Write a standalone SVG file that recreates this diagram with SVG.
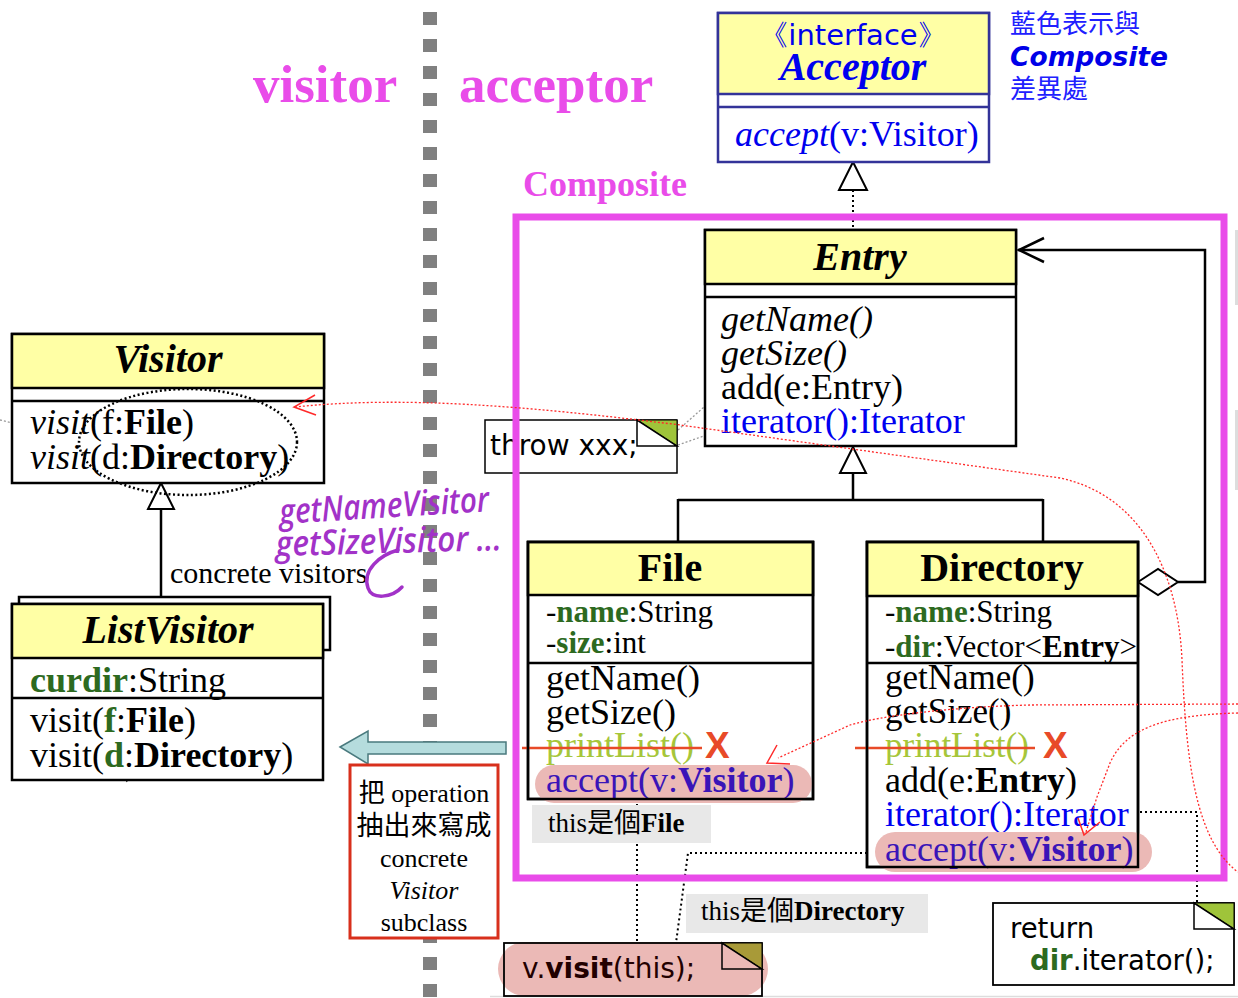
<svg xmlns="http://www.w3.org/2000/svg" width="1238" height="998" viewBox="0 0 1238 998">
<defs>
<style>
.box{fill:#fff;stroke:#000;stroke-width:2.5}
.ol{fill:none;stroke:#000;stroke-width:2.5}
.hdr{fill:#ffffa5;stroke:#000;stroke-width:2.5}
.ln{stroke:#000;stroke-width:2.5}
.serif{font-family:"Liberation Serif","Times New Roman",serif}
.sans{font-family:"DejaVu Sans",Verdana,sans-serif}
.cjk{font-family:"Liberation Serif","Noto Sans CJK TC",serif}
.b{font-weight:bold}
.i{font-style:italic}
.grn{fill:#2d6a1f}
.blu{fill:#0000f0}
.acc{fill:#3a14b8}
.pl{fill:#a6c63a}
.mag{fill:#e94ce9}
.pill{fill:#ebb9b6}
.dot{fill:none;stroke:#000;stroke-width:2;stroke-dasharray:2 3}
.gdot{fill:none;stroke:#999;stroke-width:1.3;stroke-dasharray:2 2}
.red{fill:none;stroke:#ff2a2a;stroke-width:1.3;stroke-dasharray:2 2}
.redl{fill:none;stroke:#ff2a2a;stroke-width:1.5}
.strike{stroke:#e84a28;stroke-width:2.5}
.xm{font-family:"Liberation Sans",Arial,sans-serif;font-weight:bold;fill:#e84a28}
.hw{font-family:"Open Sans",sans-serif;font-style:italic;font-weight:600;fill:#a232c8}
.lbl{fill:#e8e8e8}
.tri{fill:#fff;stroke:#000;stroke-width:2}
</style>
</defs>
<rect width="1238" height="998" fill="#fff"/>

<!-- divider -->
<line x1="430" y1="12" x2="430" y2="998" stroke="#808080" stroke-width="14" stroke-dasharray="13 14"/>
<line x1="490" y1="996.5" x2="1238" y2="996.5" stroke="#ddd" stroke-width="1.5"/>
<line x1="1236.5" y1="230" x2="1236.5" y2="305" stroke="#ddd" stroke-width="3"/>
<line x1="1236.5" y1="410" x2="1236.5" y2="490" stroke="#ddd" stroke-width="3"/>

<!-- titles -->
<g id="titles">
<text x="253" y="102" class="serif b mag" font-size="53">visitor</text>
<text x="459" y="102" class="serif b mag" font-size="53">acceptor</text>
<text x="523" y="196" class="serif b mag" font-size="36">Composite</text>
</g>

<!-- legend -->
<g id="legend">
<text x="1010" y="33" font-family="'Noto Sans CJK TC',sans-serif" font-size="26" fill="#2020ff">藍色表示與</text>
<text x="1010" y="66" class="sans b i" font-size="26.5" fill="#0000e8">Composite</text>
<text x="1010" y="98" font-family="'Noto Sans CJK TC',sans-serif" font-size="26" fill="#2020ff">差異處</text>
</g>

<!-- connectors -->
<g id="connectors">
<path class="dot" d="M853 190 V230"/>
<polygon points="853,162 839,190 867,190" class="tri"/>
<polygon points="853,447 840,473 866,473" class="tri"/>
<path class="ln" fill="none" d="M853 473 V500 M678 500 H1043 M678 499 V542 M1043 499 V542"/>
<polygon points="1138,582 1158,569 1178,582 1158,595" class="tri"/>
<path fill="none" class="ln" d="M1178 582 H1205 V250 H1018"/>
<path fill="none" class="ln" d="M1044 238 L1019 250 L1044 262"/>
<polygon points="161,483 148,509 174,509" class="tri"/>
<path class="ln" d="M161 509 V604"/>
<path class="dot" d="M637 799 V943"/>
<path class="dot" d="M867 853 H688 L676 943"/>
<path class="dot" d="M1140 812 H1197 V903"/>
<path class="gdot" d="M678 430 L721 392 M678 445 L721 430"/>
<path class="gdot" stroke="#555" d="M0 420 L85 440"/>
<path fill="none" stroke="#333" stroke-width="1.3" stroke-dasharray="2 2" d="M57 597 L127 782 M12 726 H28 M12 752 H28"/>
<polygon points="340,747 368,731 368,742 506,742 506,754 368,754 368,764" fill="#b5dcdd" stroke="#4a7a7e" stroke-width="1.5"/>
</g>

<!-- Acceptor -->
<g id="acceptor">
<rect x="718" y="13" width="271" height="149" fill="#fff" stroke="#333399" stroke-width="2.5"/>
<rect x="718" y="13" width="271" height="81" fill="#ffffa5" stroke="#333399" stroke-width="2.5"/>
<line x1="718" y1="107" x2="989" y2="107" stroke="#333399" stroke-width="2.5"/>
<text x="853" y="45" text-anchor="middle" class="sans" font-size="29" fill="#0000ee">《interface》</text>
<text x="853" y="80" text-anchor="middle" class="serif b i" font-size="40" fill="#0000ee">Acceptor</text>
<text x="735" y="146" class="serif" font-size="36" fill="#0000ee"><tspan font-style="italic">accept</tspan>(v:Visitor)</text>
</g>

<!-- throw note -->
<g id="note-throw">
<rect x="485" y="420" width="192" height="53" fill="#fff" stroke="#000" stroke-width="1.5"/>
<polygon points="637,420 677,420 677,446" fill="#9fc43a" stroke="#000" stroke-width="1"/>
<polygon points="637,420 677,446 637,446" fill="#fff" stroke="#000" stroke-width="1.5"/>
<text x="490" y="455" class="sans" font-size="28">throw xxx;</text>
</g>

<!-- composite frame -->
<rect x="516" y="217" width="708" height="661" fill="none" stroke="#e94ce9" stroke-width="7"/>

<!-- Entry -->
<g id="entry">
<rect x="705" y="230" width="311" height="216" class="box"/>
<rect x="705" y="230" width="311" height="54" class="hdr"/>
<line x1="705" y1="297" x2="1016" y2="297" class="ln"/>
<text x="860" y="270" text-anchor="middle" class="serif b i" font-size="40">Entry</text>
<text x="721" y="331" class="serif i" font-size="36">getName()</text>
<text x="721" y="365" class="serif i" font-size="36">getSize()</text>
<text x="721" y="399" class="serif" font-size="36">add(e:Entry)</text>
<text x="721" y="433" class="serif blu" font-size="36">iterator():Iterator</text>
</g>

<!-- File -->
<g id="file">
<rect x="528" y="542" width="285" height="257" class="box"/>
<rect x="528" y="542" width="285" height="53" class="hdr"/>
<line x1="528" y1="663" x2="813" y2="663" class="ln"/>
<text x="670" y="581" text-anchor="middle" class="serif b" font-size="40">File</text>
<text x="546" y="622" class="serif" font-size="31">-<tspan class="b grn">name</tspan>:String</text>
<text x="546" y="653" class="serif" font-size="31">-<tspan class="b grn">size</tspan>:int</text>
<text x="546" y="690" class="serif" font-size="36">getName()</text>
<text x="546" y="724" class="serif" font-size="36">getSize()</text>
<text x="546" y="757" class="serif pl" font-size="36">printList()</text>
<line x1="522" y1="748" x2="702" y2="748" class="strike"/>
<text x="705" y="758" class="xm" font-size="37">X</text>
<rect x="535" y="765" width="277" height="38" rx="19" class="pill"/>
<text x="546" y="792" class="serif acc" font-size="36">accept(v:<tspan class="b">Visitor</tspan>)</text>
<rect x="528" y="542" width="285" height="257" class="ol"/>
<rect x="532" y="805" width="179" height="38" class="lbl"/>
<text x="548" y="832" class="cjk" font-size="27">this是個<tspan class="b">File</tspan></text>
</g>

<!-- Directory -->
<g id="directory">
<rect x="867" y="542" width="271" height="325" class="box"/>
<rect x="867" y="542" width="271" height="54" class="hdr"/>
<line x1="867" y1="663" x2="1138" y2="663" class="ln"/>
<text x="1002" y="581" text-anchor="middle" class="serif b" font-size="40">Directory</text>
<text x="885" y="622" class="serif" font-size="31">-<tspan class="b grn">name</tspan>:String</text>
<text x="885" y="657" class="serif" font-size="31">-<tspan class="b grn">dir</tspan>:Vector&lt;<tspan class="b">Entry</tspan>&gt;</text>
<text x="885" y="689" class="serif" font-size="35">getName()</text>
<text x="885" y="723" class="serif" font-size="35">getSize()</text>
<text x="885" y="757" class="serif pl" font-size="35">printList()</text>
<line x1="855" y1="748" x2="1035" y2="748" class="strike"/>
<text x="1043" y="758" class="xm" font-size="37">X</text>
<text x="885" y="792" class="serif" font-size="36">add(e:<tspan class="b">Entry</tspan>)</text>
<text x="885" y="826" class="serif blu" font-size="36">iterator():Iterator</text>
<rect x="875" y="832" width="277" height="40" rx="20" class="pill"/>
<text x="885" y="861" class="serif acc" font-size="36">accept(v:<tspan class="b">Visitor</tspan>)</text>
<rect x="867" y="542" width="271" height="325" class="ol"/>
<rect x="686" y="894" width="242" height="39" class="lbl"/>
<text x="701" y="920" class="cjk" font-size="27">this是個<tspan class="b">Directory</tspan></text>
</g>

<!-- return note -->
<g id="note-return">
<rect x="993" y="903" width="241" height="82" fill="#fff" stroke="#000" stroke-width="1.8"/>
<polygon points="1194,903 1234,903 1234,929" fill="#9fc43a" stroke="#000" stroke-width="1"/>
<polygon points="1194,903 1234,929 1194,929" fill="#fff" stroke="#000" stroke-width="1.5"/>
<text x="1010" y="938" class="sans" font-size="27.5">return</text>
<text x="1030" y="970" class="sans" font-size="27.5"><tspan class="b grn">dir</tspan>.iterator();</text>
</g>

<!-- v.visit note -->
<g id="note-visit">
<rect x="504" y="943" width="258" height="53" fill="#fff"/>
<rect x="498" y="942" width="270" height="54" rx="27" class="pill"/>
<rect x="504" y="943" width="258" height="53" fill="none" stroke="#000" stroke-width="1.8"/>
<polygon points="722,943 762,943 762,969" fill="#a89a38" stroke="#000" stroke-width="1"/>
<polygon points="722,943 762,969 722,969" fill="#ebb9b6" stroke="#000" stroke-width="1.5"/>
<text x="522" y="978" class="sans" font-size="28" fill="#200">v.<tspan class="b">visit</tspan>(this);</text>
</g>

<!-- Visitor -->
<g id="visitor">
<rect x="12" y="334" width="312" height="149" class="box"/>
<rect x="12" y="334" width="312" height="54" class="hdr"/>
<line x1="12" y1="401" x2="324" y2="401" class="ln"/>
<text x="168" y="372" text-anchor="middle" class="serif b i" font-size="40">Visitor</text>
<text x="30" y="434" class="serif" font-size="36"><tspan class="i">visit</tspan>(f:<tspan class="b">File</tspan>)</text>
<text x="30" y="469" class="serif" font-size="36"><tspan class="i">visit</tspan>(d:<tspan class="b">Directory</tspan>)</text>
<ellipse cx="188" cy="442" rx="109" ry="53" fill="none" stroke="#000" stroke-width="2.5" stroke-dasharray="2 2.5"/>
</g>

<text x="170" y="583" class="serif" font-size="30">concrete visitors</text>

<!-- ListVisitor -->
<g id="listvisitor">
<rect x="19" y="597" width="311" height="53" fill="#fff" stroke="#000" stroke-width="2.5"/>
<rect x="12" y="604" width="311" height="176" class="box"/>
<rect x="12" y="604" width="311" height="54" class="hdr"/>
<line x1="12" y1="698" x2="323" y2="698" class="ln"/>
<text x="168" y="643" text-anchor="middle" class="serif b i" font-size="40">ListVisitor</text>
<text x="30" y="692" class="serif" font-size="36"><tspan class="b grn">curdir</tspan>:String</text>
<text x="30" y="732" class="serif" font-size="36">visit(<tspan class="b grn">f</tspan>:<tspan class="b">File</tspan>)</text>
<text x="30" y="767" class="serif" font-size="36">visit(<tspan class="b grn">d</tspan>:<tspan class="b">Directory</tspan>)</text>
</g>

<!-- red box -->
<g id="note-operation">
<rect x="350" y="765" width="148" height="173" fill="#fff" stroke="#d8301c" stroke-width="3"/>
<text x="424" y="802" text-anchor="middle" class="cjk" font-size="26">把 operation</text>
<text x="424" y="835" text-anchor="middle" class="cjk" font-size="27">抽出來寫成</text>
<text x="424" y="867" text-anchor="middle" class="serif" font-size="26">concrete</text>
<text x="424" y="899" text-anchor="middle" class="serif i" font-size="26">Visitor</text>
<text x="424" y="931" text-anchor="middle" class="serif" font-size="26">subclass</text>
</g>

<!-- handwriting -->
<g id="handwriting">
<text x="280" y="524" class="hw" font-size="35" textLength="210" lengthAdjust="spacingAndGlyphs" transform="rotate(-3.5 280 524)">getNameVisitor</text>
<text x="276" y="556" class="hw" font-size="35" textLength="226" lengthAdjust="spacingAndGlyphs" transform="rotate(-1.5 276 556)">getSizeVisitor ...</text>
<path d="M398 550 C380 555,362 570,368 588 C372 600,392 598,402 587" fill="none" stroke="#a232c8" stroke-width="3.5" stroke-linecap="round"/>
</g>

<!-- red annotations -->
<g id="annotations">
<path class="red" d="M295 407 C400 396,520 405,680 425 L1060 478 C1140 495,1178 570,1182 660 C1186 760,1195 840,1238 872"/>
<path class="redl" d="M315 395 L294 407 L316 415"/>
<path class="red" d="M1238 704 L1030 705 C950 707,880 716,850 725 L778 758"/>
<path class="redl" d="M777 745 L767 763 L790 764"/>
<path class="red" d="M1238 713 C1160 715,1125 730,1110 763 L1097 797 L1086 832"/>
<path class="redl" d="M1078 818 L1084 835 L1100 822"/>
</g>
</svg>
